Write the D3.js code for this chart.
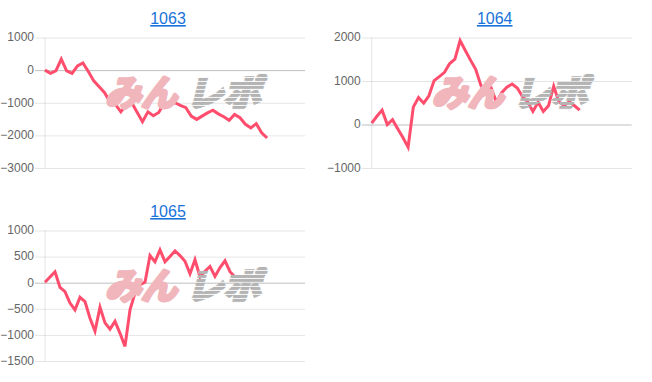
<!DOCTYPE html>
<html>
<head>
<meta charset="utf-8">
<script src="https://cdn.jsdelivr.net/npm/d3@7"></script>
<style>
  body { margin: 0; background: #fff; }
</style>
</head>
<body>
<div id="charts"></div>
<script>
// machine numbers and how many day slots each x axis has
var ids = ["1063", "1064", "1065"];
var dayCounts = [49, 51, 53];

// coin difference per day
var values1063 = [0, -100, -20, 340, -20, -100, 130, 220, -40, -330,
  -510, -690, -970, -1050, -1280, -1070, -990, -1290, -1580, -1280,
  -1400, -1300, -1000, -1050, -1000, -1080, -1150, -1410, -1510, -1410,
  -1310, -1230, -1340, -1430, -1540, -1360, -1460, -1660, -1770, -1640,
  -1920, -2080];
var values1064 = [30, 190, 330, 0, 110, -100, -300, -520, 400, 620,
  490, 660, 1010, 1100, 1200, 1400, 1500, 1930, 1700, 1480,
  1270, 900, 720, 830, 510, 730, 860, 930, 840, 640,
  520, 300, 510, 300, 430, 880, 520, 440, 520, 430,
  330];
var values1065 = [10, 110, 210, -90, -170, -390, -520, -280, -360, -680,
  -930, -470, -770, -890, -740, -970, -1220, -520, -200, -40,
  10, 520, 400, 630, 400, 500, 610, 520, 410, 170,
  440, 110, 220, 310, 120, 290, 420, 210, 110];

// y tick labels
var ticks1063 = [1000, 0, -1000, -2000, -3000];
var ticks1064 = [2000, 1000, 0, -1000];
var ticks1065 = [1000, 500, 0, -500, -1000, -1500];

var seriesList = [values1063, values1064, values1065];
var tickList = [ticks1063, ticks1064, ticks1065];

var svgWidth = 652;
var svgHeight = 382;
var cellOrigins = [[0, 0], [326.7, 0], [0, 193]];

var margin = { top: 37.5, left: 45 };
var width = 260;
var height = 130.5;

var svg = d3.select("#charts")
  .append("svg")
  .attr("width", svgWidth)
  .attr("height", svgHeight);

// striped fill for the grey half of the logo
var pat = svg.append("defs").append("pattern")
  .attr("id", "stripes")
  .attr("width", 6)
  .attr("height", 4)
  .attr("patternUnits", "userSpaceOnUse");
pat.append("rect")
  .attr("width", 6)
  .attr("height", 3)
  .attr("fill", "#b4b4b4");

ids.forEach(function(id, i) {
  var cell = svg.append("g")
    .attr("transform", `translate(${cellOrigins[i][0]}, ${cellOrigins[i][1]})`);
  var ticks = tickList[i];
  var values = seriesList[i];

  var xScale = d3.scaleLinear()
    .domain([0, dayCounts[i] - 1])
    .range([0, width]);
  var yScale = d3.scaleLinear()
    .domain([d3.min(ticks), d3.max(ticks)])
    .range([height, 0]);

  // title link
  cell.append("text")
    .attr("x", 168)
    .attr("y", 24)
    .attr("text-anchor", "middle")
    .attr("fill", "#1a73d9")
    .style("font", "16px 'Liberation Sans', Arial, sans-serif")
    .style("text-decoration", "underline")
    .text(id);

  var chartGroup = cell.append("g")
    .attr("transform", `translate(${margin.left}, ${margin.top})`);

  var leftAxis = d3.axisLeft(yScale)
    .tickValues(ticks)
    .tickFormat(d3.format("d"))
    .tickSize(-(width + 10))
    .tickPadding(1);

  var axisG = chartGroup.append("g")
    .attr("transform", "translate(-10, 0)")
    .call(leftAxis);
  axisG.select(".domain").remove();
  axisG.selectAll("line")
    .attr("stroke", d => d === 0 ? "rgba(0,0,0,0.25)" : "rgba(0,0,0,0.1)");
  axisG.selectAll("text")
    .attr("fill", "#666")
    .attr("dy", "0.28em")
    .style("font", "12px 'Liberation Sans', Arial, sans-serif");

  // y axis border
  chartGroup.append("line")
    .attr("x1", 0).attr("x2", 0)
    .attr("y1", 0).attr("y2", height)
    .attr("stroke", "rgba(0,0,0,0.1)");

  // watermark logo
  cell.append("text")
    .attr("transform", "translate(105, 106) skewX(-14)")
    .attr("textLength", 72)
    .attr("lengthAdjust", "spacingAndGlyphs")
    .attr("fill", "#f0b6bc")
    .attr("stroke", "#f0b6bc")
    .attr("stroke-width", 3.5)
    .attr("stroke-linejoin", "round")
    .attr("font-family", "'Noto Sans CJK JP', sans-serif")
    .attr("font-weight", "bold")
    .attr("font-size", 36)
    .text("みん");
  cell.append("text")
    .attr("transform", "translate(186, 106) skewX(-14)")
    .attr("textLength", 75)
    .attr("lengthAdjust", "spacingAndGlyphs")
    .attr("fill", "url(#stripes)")
    .attr("stroke", "url(#stripes)")
    .attr("stroke-width", 3.5)
    .attr("font-family", "'Noto Sans CJK JP', sans-serif")
    .attr("font-weight", "bold")
    .attr("font-size", 36)
    .text("レポ");

  var line = d3.line()
    .x((d, j) => xScale(j))
    .y(d => yScale(d));

  chartGroup.append("path")
    .datum(values)
    .attr("d", line)
    .attr("fill", "none")
    .attr("stroke", "#ff4d6d")
    .attr("stroke-width", 3);
});
</script>
</body>
</html>
